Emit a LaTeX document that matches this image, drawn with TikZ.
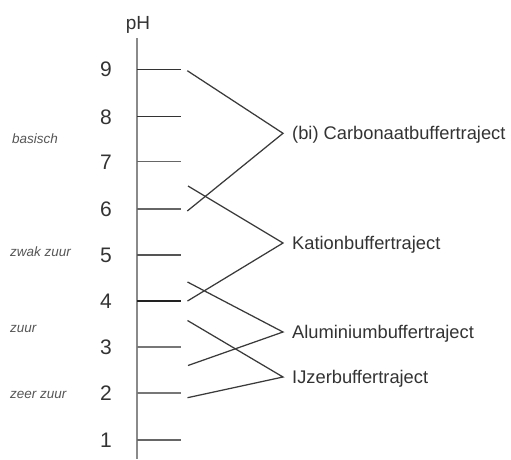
\documentclass[tikz,border=0pt]{standalone}
\usepackage{fontspec}
\setmainfont{Liberation Sans}
\definecolor{txt}{HTML}{333333}
\definecolor{zonegray}{HTML}{555555}
\definecolor{axisgray}{HTML}{8A8A8A}
\definecolor{conngray}{HTML}{3A3A3A}
\begin{document}
\begin{tikzpicture}[x=1pt,y=-1pt,
  axisline/.style={line width=2pt,draw=axisgray},
  tickline/.style={line width=1.5pt},
  conn/.style={line width=1.25pt,draw=conngray},
  num/.style={font=\fontsize{21}{21}\selectfont,text=txt,anchor=base,inner sep=0pt},
  phlbl/.style={font=\fontsize{19}{19}\selectfont,text=txt,anchor=base,inner sep=0pt},
  lbl/.style={font=\fontsize{18.3}{18.3}\selectfont,text=txt,anchor=base west,inner sep=0pt},
  zone/.style={font=\itshape\fontsize{13.5}{13.5}\selectfont,text=zonegray,anchor=base west,inner sep=0pt}]
\useasboundingbox (0,0) rectangle (511,459);
% axis
\node[phlbl] (ph) at (138,29.3) {pH};
\coordinate (axtop) at (137,38);
\coordinate (axbot) at (137,459);
\draw[axisline] (axtop) -- (axbot);
% ticks and numbers
\foreach \v/\yy/\c in {9/69.3/333333,8/116.7/333333,7/161.7/666666,6/209/666666,5/255/555555,4/301/222222,3/347/777777,2/393/777777,1/440/666666}{
  \coordinate (t\v) at (137,\yy);
  \coordinate (te\v) at (181,\yy);
  \definecolor{tc}{HTML}{\c}
  \draw[tickline,draw=tc] (t\v) -- (te\v);
  \node[num] (n\v) at (106,\yy+7.5) {\v};
}
% zone labels
\node[zone] (basisch) at (12,143) {basisch};
\node[zone] (zwak) at (10,256) {zwak zuur};
\node[zone] (zuur) at (10,332.5) {zuur};
\node[zone] (zeer) at (10,398) {zeer zuur};
% connector start points
\coordinate (c1) at (187.3,70.7);
\coordinate (c2) at (187.3,211);
\coordinate (k1) at (188,186);
\coordinate (k2) at (187.5,301);
\coordinate (a1) at (187.5,282);
\coordinate (a2) at (188,365.5);
\coordinate (i1) at (187.5,320.5);
\coordinate (i2) at (187.5,397.7);
% apexes
\coordinate (aC) at (283,133.3);
\coordinate (aK) at (283,243);
\coordinate (aA) at (283,332);
\coordinate (aI) at (283,377);
% labels
\node[lbl] (carb) at (292,139.8) {(bi) Carbonaatbuffertraject};
\node[lbl] (kat) at (292,249.5) {Kationbuffertraject};
\node[lbl] (alu) at (292,338.5) {Aluminiumbuffertraject};
\node[lbl] (ijz) at (292,383.5) {IJzerbuffertraject};
% connectors
\draw[conn] (c1) -- (aC) -- (c2);
\draw[conn] (k1) -- (aK) -- (k2);
\draw[conn] (a1) -- (aA) -- (a2);
\draw[conn] (i1) -- (aI) -- (i2);
\end{tikzpicture}
\end{document}
